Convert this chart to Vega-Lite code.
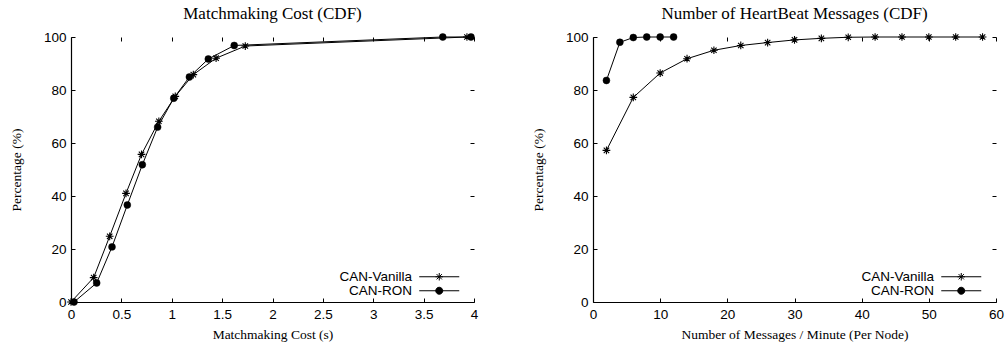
{
  "$schema": "https://vega.github.io/schema/vega-lite/v6.json",
  "background": "white",
  "padding": {"left": 9, "top": 5, "right": 1, "bottom": 3},
  "datasets": {
    "match": [
      {"series": "CAN-Vanilla", "cost": 0, "pct": 0},
      {"series": "CAN-Vanilla", "cost": 0.225, "pct": 9.2},
      {"series": "CAN-Vanilla", "cost": 0.384, "pct": 24.8},
      {"series": "CAN-Vanilla", "cost": 0.546, "pct": 41},
      {"series": "CAN-Vanilla", "cost": 0.7, "pct": 55.7},
      {"series": "CAN-Vanilla", "cost": 0.872, "pct": 68.2},
      {"series": "CAN-Vanilla", "cost": 1.035, "pct": 77.6},
      {"series": "CAN-Vanilla", "cost": 1.214, "pct": 85.8},
      {"series": "CAN-Vanilla", "cost": 1.44, "pct": 92},
      {"series": "CAN-Vanilla", "cost": 1.73, "pct": 96.6},
      {"series": "CAN-Vanilla", "cost": 3.93, "pct": 100},
      {"series": "CAN-RON", "cost": 0.03, "pct": 0},
      {"series": "CAN-RON", "cost": 0.255, "pct": 7.2},
      {"series": "CAN-RON", "cost": 0.407, "pct": 20.8},
      {"series": "CAN-RON", "cost": 0.559, "pct": 36.6},
      {"series": "CAN-RON", "cost": 0.708, "pct": 51.8},
      {"series": "CAN-RON", "cost": 0.86, "pct": 66},
      {"series": "CAN-RON", "cost": 1.02, "pct": 76.9},
      {"series": "CAN-RON", "cost": 1.175, "pct": 84.9},
      {"series": "CAN-RON", "cost": 1.363, "pct": 91.7},
      {"series": "CAN-RON", "cost": 1.62, "pct": 96.8},
      {"series": "CAN-RON", "cost": 3.69, "pct": 100},
      {"series": "CAN-RON", "cost": 3.97, "pct": 100}
    ],
    "hb": [
      {"series": "CAN-Vanilla", "msgs": 2, "pct": 57.2},
      {"series": "CAN-Vanilla", "msgs": 6, "pct": 77.2},
      {"series": "CAN-Vanilla", "msgs": 10, "pct": 86.4},
      {"series": "CAN-Vanilla", "msgs": 14, "pct": 91.8},
      {"series": "CAN-Vanilla", "msgs": 18, "pct": 95},
      {"series": "CAN-Vanilla", "msgs": 22, "pct": 96.8},
      {"series": "CAN-Vanilla", "msgs": 26, "pct": 97.9},
      {"series": "CAN-Vanilla", "msgs": 30, "pct": 98.9},
      {"series": "CAN-Vanilla", "msgs": 34, "pct": 99.5},
      {"series": "CAN-Vanilla", "msgs": 38, "pct": 99.9},
      {"series": "CAN-Vanilla", "msgs": 42, "pct": 100},
      {"series": "CAN-Vanilla", "msgs": 46, "pct": 100},
      {"series": "CAN-Vanilla", "msgs": 50, "pct": 100},
      {"series": "CAN-Vanilla", "msgs": 54, "pct": 100},
      {"series": "CAN-Vanilla", "msgs": 58, "pct": 100},
      {"series": "CAN-RON", "msgs": 2, "pct": 83.6},
      {"series": "CAN-RON", "msgs": 4, "pct": 98},
      {"series": "CAN-RON", "msgs": 6, "pct": 99.8},
      {"series": "CAN-RON", "msgs": 8, "pct": 100},
      {"series": "CAN-RON", "msgs": 10, "pct": 100},
      {"series": "CAN-RON", "msgs": 12, "pct": 100}
    ]
  },
  "config": {
    "view": {"stroke": null},
    "axis": {
      "grid": false,
      "labelFlush": false,
      "labelOverlap": false,
      "labelFont": "Liberation Sans",
      "labelFontSize": 13.5,
      "labelColor": "black",
      "titleFont": "Liberation Serif",
      "titleFontSize": 13.5,
      "titleFontWeight": "normal",
      "titleColor": "black",
      "domainColor": "black",
      "domainWidth": 1.2,
      "tickColor": "black",
      "tickWidth": 1,
      "tickSize": -4,
      "labelPadding": 9
    },
    "axisLeft": {"titlePadding": 20},
    "axisBottom": {"titlePadding": 7},
    "legend": {
      "orient": "none",
      "legendX": 361.5,
      "legendY": 233,
      "title": null,
      "labelFont": "Liberation Sans",
      "labelFontSize": 13.5,
      "labelColor": "black",
      "labelAlign": "right",
      "labelOffset": -34,
      "symbolSize": 100,
      "symbolStrokeColor": "black",
      "symbolFillColor": "black",
      "symbolStrokeWidth": 1,
      "rowPadding": -3
    }
  },
  "bounds": "flush",
  "spacing": 119,
  "resolve": {"scale": {"color": "independent"}, "legend": {"color": "independent"}},
  "hconcat": [
    {
      "title": {"text": "Matchmaking Cost (CDF)", "font": "Liberation Serif", "fontSize": 17, "fontWeight": "normal", "color": "black", "anchor": "middle", "frame": "group", "offset": 7},
      "width": 403,
      "height": 265,
      "data": {"name": "match"},
      "layer": [
        {
          "mark": {"type": "line", "strokeWidth": 1},
          "encoding": {
            "x": {"field": "cost", "type": "quantitative", "scale": {"domain": [0, 4], "nice": false},
                  "axis": {"orient": "bottom", "title": "Matchmaking Cost (s)", "values": [0, 0.5, 1, 1.5, 2, 2.5, 3, 3.5, 4], "format": "~g"}},
            "y": {"field": "pct", "type": "quantitative", "scale": {"domain": [0, 100], "nice": false},
                  "axis": {"orient": "left", "title": "Percentage (%)", "values": [0, 20, 40, 60, 80, 100]}},
            "color": {"field": "series", "type": "nominal",
                      "scale": {"domain": ["CAN-Vanilla", "CAN-RON"], "range": ["black", "black"]},
                      "legend": {"symbolType": {"expr": "datum.value == 'CAN-RON' ? 'M-4,0H4M0.7,0A0.7,0.7,0,1,1,-0.7,0A0.7,0.7,0,1,1,0.7,0Z' : 'M-4,0H4M-0.75,0H0.75M0,-0.75V0.75M-0.53,-0.53L0.53,0.53M-0.53,0.53L0.53,-0.53'"}}}
          }
        },
        {
          "transform": [{"filter": "datum.series == 'CAN-Vanilla'"}],
          "mark": {"type": "point", "shape": "M-1,0H1M0,-1V1M-0.7,-0.7L0.7,0.7M-0.7,0.7L0.7,-0.7", "filled": false, "stroke": "black", "strokeWidth": 1.1, "opacity": 1, "size": 60},
          "encoding": {
            "x": {"field": "cost", "type": "quantitative",
                  "axis": {"orient": "top", "labels": false, "domain": false, "title": null, "values": [0, 0.5, 1, 1.5, 2, 2.5, 3, 3.5, 4]}},
            "y": {"field": "pct", "type": "quantitative",
                  "axis": {"orient": "right", "labels": false, "domain": false, "title": null, "values": [0, 20, 40, 60, 80, 100]}}
          }
        },
        {
          "transform": [{"filter": "datum.series == 'CAN-RON'"}],
          "mark": {"type": "point", "shape": "circle", "filled": true, "fill": "black", "stroke": "black", "strokeWidth": 0.5, "opacity": 1, "size": 48},
          "encoding": {
            "x": {"field": "cost", "type": "quantitative", "axis": null},
            "y": {"field": "pct", "type": "quantitative", "axis": null}
          }
        }
      ],
      "resolve": {"axis": {"x": "independent", "y": "independent"}}
    },
    {
      "title": {"text": "Number of HeartBeat Messages (CDF)", "font": "Liberation Serif", "fontSize": 17, "fontWeight": "normal", "color": "black", "anchor": "middle", "frame": "group", "offset": 7},
      "width": 403,
      "height": 265,
      "data": {"name": "hb"},
      "layer": [
        {
          "mark": {"type": "line", "strokeWidth": 1},
          "encoding": {
            "x": {"field": "msgs", "type": "quantitative", "scale": {"domain": [0, 60], "nice": false},
                  "axis": {"orient": "bottom", "title": "Number of Messages / Minute (Per Node)", "values": [0, 10, 20, 30, 40, 50, 60]}},
            "y": {"field": "pct", "type": "quantitative", "scale": {"domain": [0, 100], "nice": false},
                  "axis": {"orient": "left", "title": "Percentage (%)", "values": [0, 20, 40, 60, 80, 100]}},
            "color": {"field": "series", "type": "nominal",
                      "scale": {"domain": ["CAN-Vanilla", "CAN-RON"], "range": ["black", "black"]},
                      "legend": {"symbolType": {"expr": "datum.value == 'CAN-RON' ? 'M-4,0H4M0.7,0A0.7,0.7,0,1,1,-0.7,0A0.7,0.7,0,1,1,0.7,0Z' : 'M-4,0H4M-0.75,0H0.75M0,-0.75V0.75M-0.53,-0.53L0.53,0.53M-0.53,0.53L0.53,-0.53'"}}}
          }
        },
        {
          "transform": [{"filter": "datum.series == 'CAN-Vanilla'"}],
          "mark": {"type": "point", "shape": "M-1,0H1M0,-1V1M-0.7,-0.7L0.7,0.7M-0.7,0.7L0.7,-0.7", "filled": false, "stroke": "black", "strokeWidth": 1.1, "opacity": 1, "size": 60},
          "encoding": {
            "x": {"field": "msgs", "type": "quantitative",
                  "axis": {"orient": "top", "labels": false, "domain": false, "title": null, "values": [0, 10, 20, 30, 40, 50, 60]}},
            "y": {"field": "pct", "type": "quantitative",
                  "axis": {"orient": "right", "labels": false, "domain": false, "title": null, "values": [0, 20, 40, 60, 80, 100]}}
          }
        },
        {
          "transform": [{"filter": "datum.series == 'CAN-RON'"}],
          "mark": {"type": "point", "shape": "circle", "filled": true, "fill": "black", "stroke": "black", "strokeWidth": 0.5, "opacity": 1, "size": 48},
          "encoding": {
            "x": {"field": "msgs", "type": "quantitative", "axis": null},
            "y": {"field": "pct", "type": "quantitative", "axis": null}
          }
        }
      ],
      "resolve": {"axis": {"x": "independent", "y": "independent"}}
    }
  ]
}
